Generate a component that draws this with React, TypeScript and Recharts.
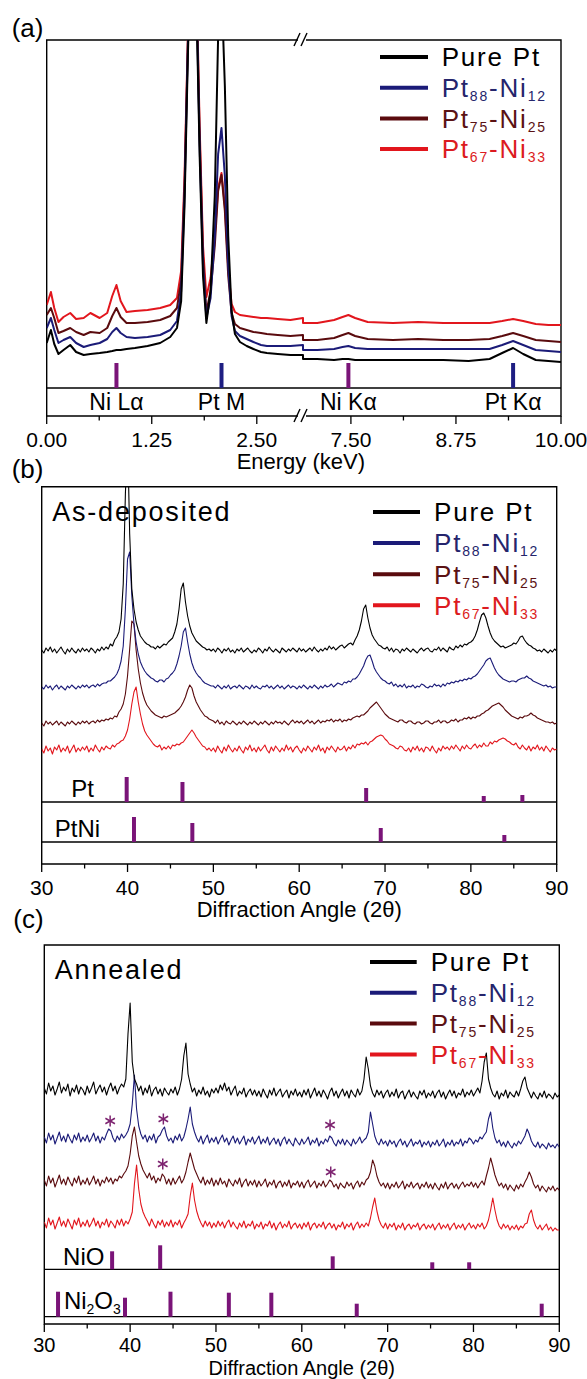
import React from 'react';
import { LineChart, Line, XAxis, YAxis, ReferenceLine, ReferenceArea, ReferenceDot, Legend } from 'recharts';

const SANS = "'Liberation Sans', Arial, Helvetica, sans-serif";

// ---------------- shared series definitions ----------------
const seriesKeys = ['purePt', 'pt88', 'pt75', 'pt67'];
const seriesColors = ['#000000', '#1b1b78', '#5a0b0e', '#e2161d'];
const legendTextColors = ['#000000', '#25256c', '#5b1214', '#dc1b21'];
const legendLabels = [
  [{ t: 'Pure Pt' }],
  [{ t: 'Pt' }, { t: '88', sub: true }, { t: '-Ni' }, { t: '12', sub: true }],
  [{ t: 'Pt' }, { t: '75', sub: true }, { t: '-Ni' }, { t: '25', sub: true }],
  [{ t: 'Pt' }, { t: '67', sub: true }, { t: '-Ni' }, { t: '33', sub: true }],
];
const NI_COLOR = '#7a1478';
const PT_COLOR = '#1e1e82';

// ---------------- panel (a): EDS ----------------
const edsEnergy = [0.00, 0.05, 0.09, 0.14, 0.20, 0.28, 0.35, 0.44, 0.52, 0.63, 0.72, 0.78, 0.83, 0.88, 0.95, 1.05, 1.20, 1.35, 1.47, 1.55, 1.60, 1.64, 1.68, 1.73, 1.78, 1.82, 1.86, 1.90, 1.95, 2.00, 2.04, 2.08, 2.12, 2.16, 2.20, 2.24, 2.30, 2.38, 2.46, 2.55, 2.62, 2.75, 2.90, 3.05, 6.93, 7.10, 7.30, 7.40, 7.47, 7.55, 7.70, 8.00, 8.30, 8.60, 8.90, 9.15, 9.30, 9.43, 9.55, 9.70, 9.85, 10.00];
const edsPurePt = [73, 86, 72, 62, 66, 71, 64, 61, 62, 63, 64, 65, 66, 66, 67, 68, 70, 73, 79, 88, 115, 210, 360, 520, 420, 260, 140, 93, 125, 220, 380, 430, 330, 180, 105, 82, 74, 70, 67, 64, 63, 62, 61, 61, 57, 57, 56, 57, 57, 56, 56, 56, 56, 56, 55, 57, 63, 68, 62, 56, 55, 54];
const edsPt88 = [88, 98, 86, 73, 76, 79, 73, 69, 71, 73, 77, 84, 88, 83, 79, 78, 79, 81, 86, 95, 125, 220, 370, 530, 430, 270, 150, 98, 118, 180, 262, 288, 240, 150, 100, 85, 80, 77, 74, 71, 70, 70, 70, 71, 66, 66, 67, 69, 70, 68, 67, 67, 67, 67, 67, 67, 71, 75, 71, 66, 65, 64];
const edsPt75 = [101, 108, 98, 83, 85, 88, 84, 81, 84, 83, 88, 100, 108, 99, 93, 93, 94, 96, 100, 108, 135, 230, 375, 540, 440, 280, 160, 104, 125, 170, 225, 241, 205, 140, 103, 92, 88, 86, 84, 83, 82, 81, 80, 81, 76, 76, 78, 81, 83, 80, 77, 76, 77, 76, 76, 77, 80, 83, 80, 76, 75, 74];
const edsPt67 = [111, 124, 108, 94, 99, 103, 97, 98, 103, 98, 103, 120, 131, 115, 104, 105, 106, 108, 111, 118, 145, 240, 380, 545, 445, 290, 170, 119, 138, 180, 228, 243, 210, 148, 112, 104, 101, 100, 99, 98, 98, 97, 96, 98, 93, 93, 96, 99, 101, 98, 94, 93, 94, 93, 93, 93, 95, 97, 95, 92, 91, 91];
const edsLineNames = ['Ni Lα', 'Pt M', 'Ni Kα', 'Pt Kα'];
const edsLineEnergies = [0.83, 2.08, 7.47, 9.43];
const edsLineElements = ['Ni', 'Pt', 'Ni', 'Pt'];
const edsStickHeight = 25;
const edsStripBase = 28;
const edsStripLabelValue = 14;
const edsYMax = 376;
const edsMajorTicks = [0, 1.25, 2.5, 7.5, 8.75, 10];
const edsMinorTicks = [0.625, 1.875, 8.125, 9.375];
const BREAK_LOW = 3.05;
const BREAK_HIGH = 6.93;
const toAxis = (e: number) => (e <= BREAK_LOW + 1e-9 ? e : e - (BREAK_HIGH - BREAK_LOW));
const fromAxis = (d: number) => (d <= BREAK_LOW + 1e-9 ? d : d + (BREAK_HIGH - BREAK_LOW));

const edsTable = edsEnergy.map((e, i) => ({
  x: toAxis(e),
  purePt: edsPurePt[i],
  pt88: edsPt88[i],
  pt75: edsPt75[i],
  pt67: edsPt67[i],
}));

// ---------------- panels (b), (c): XRD (0.25° steps) ----------------
const xrdAngles = [
  30, 30.25, 30.5, 30.75, 31, 31.25, 31.5, 31.75, 32, 32.25, 32.5, 32.75, 33, 33.25, 33.5, 33.75, 34, 34.25, 34.5, 34.75,
  35, 35.25, 35.5, 35.75, 36, 36.25, 36.5, 36.75, 37, 37.25, 37.5, 37.75, 38, 38.25, 38.5, 38.75, 39, 39.25, 39.5, 39.75,
  40, 40.25, 40.5, 40.75, 41, 41.25, 41.5, 41.75, 42, 42.25, 42.5, 42.75, 43, 43.25, 43.5, 43.75, 44, 44.25, 44.5, 44.75,
  45, 45.25, 45.5, 45.75, 46, 46.25, 46.5, 46.75, 47, 47.25, 47.5, 47.75, 48, 48.25, 48.5, 48.75, 49, 49.25, 49.5, 49.75,
  50, 50.25, 50.5, 50.75, 51, 51.25, 51.5, 51.75, 52, 52.25, 52.5, 52.75, 53, 53.25, 53.5, 53.75, 54, 54.25, 54.5, 54.75,
  55, 55.25, 55.5, 55.75, 56, 56.25, 56.5, 56.75, 57, 57.25, 57.5, 57.75, 58, 58.25, 58.5, 58.75, 59, 59.25, 59.5, 59.75,
  60, 60.25, 60.5, 60.75, 61, 61.25, 61.5, 61.75, 62, 62.25, 62.5, 62.75, 63, 63.25, 63.5, 63.75, 64, 64.25, 64.5, 64.75,
  65, 65.25, 65.5, 65.75, 66, 66.25, 66.5, 66.75, 67, 67.25, 67.5, 67.75, 68, 68.25, 68.5, 68.75, 69, 69.25, 69.5, 69.75,
  70, 70.25, 70.5, 70.75, 71, 71.25, 71.5, 71.75, 72, 72.25, 72.5, 72.75, 73, 73.25, 73.5, 73.75, 74, 74.25, 74.5, 74.75,
  75, 75.25, 75.5, 75.75, 76, 76.25, 76.5, 76.75, 77, 77.25, 77.5, 77.75, 78, 78.25, 78.5, 78.75, 79, 79.25, 79.5, 79.75,
  80, 80.25, 80.5, 80.75, 81, 81.25, 81.5, 81.75, 82, 82.25, 82.5, 82.75, 83, 83.25, 83.5, 83.75, 84, 84.25, 84.5, 84.75,
  85, 85.25, 85.5, 85.75, 86, 86.25, 86.5, 86.75, 87, 87.25, 87.5, 87.75, 88, 88.25, 88.5, 88.75, 89, 89.25, 89.5, 89.75,
  90,
];

// as-deposited
const asDepPurePt = [
  214, 211, 216, 213, 217, 212, 215, 211, 214, 217, 213, 210, 215, 212, 216, 213, 211, 215, 212, 216,
  213, 215, 212, 216, 214, 211, 215, 213, 217, 214, 217, 215, 220, 218, 224, 227, 232, 245, 280, 370,
  430, 330, 275, 255, 242, 234, 228, 225, 222, 220, 219, 217, 217, 215, 218, 216, 218, 220, 219, 222,
  224, 226, 232, 240, 255, 275, 281, 262, 248, 238, 231, 227, 223, 221, 219, 217, 216, 214, 215, 213,
  215, 212, 216, 214, 211, 215, 213, 216, 212, 214, 211, 215, 213, 216, 212, 214, 216, 213, 211, 214,
  212, 216, 214, 211, 215, 213, 217, 214, 212, 215, 213, 211, 216, 214, 212, 215, 213, 216, 214, 212,
  216, 213, 215, 212, 214, 216, 213, 217, 214, 212, 215, 213, 216, 214, 218, 215, 217, 214, 216, 218,
  219, 216, 218, 220, 221, 219, 224, 228, 234, 243, 255, 259, 246, 236, 229, 225, 222, 219, 218, 216,
  215, 217, 213, 216, 212, 215, 214, 211, 215, 213, 216, 214, 212, 215, 213, 211, 214, 216, 213, 215,
  216, 213, 212, 215, 214, 217, 213, 216, 214, 212, 217, 215, 214, 218, 216, 219, 217, 220, 219, 221,
  222, 224, 228, 234, 242, 249, 251, 246, 238, 231, 226, 223, 221, 219, 217, 218, 216, 217, 218, 219,
  221, 220, 223, 227, 228, 224, 221, 219, 218, 216, 215, 213, 214, 212, 215, 213, 211, 214, 212, 215,
  213,
];
const asDepPt88 = [
  177, 175, 179, 176, 178, 174, 177, 179, 175, 178, 176, 174, 178, 176, 179, 177, 175, 178, 176, 179,
  177, 179, 176, 178, 179, 177, 180, 178, 180, 181, 181, 183, 183, 185, 187, 190, 195, 203, 218, 255,
  305, 312, 268, 240, 222, 210, 202, 197, 193, 190, 188, 186, 185, 183, 182, 184, 184, 182, 185, 186,
  189, 191, 194, 200, 208, 218, 232, 236, 222, 210, 201, 195, 191, 188, 186, 183, 181, 180, 179, 178,
  178, 176, 179, 177, 175, 178, 176, 179, 175, 177, 178, 176, 179, 177, 175, 178, 177, 175, 179, 176,
  178, 176, 175, 178, 177, 179, 176, 178, 175, 177, 179, 176, 178, 175, 177, 179, 176, 178, 177, 175,
  178, 176, 179, 177, 175, 178, 176, 179, 177, 175, 178, 176, 179, 177, 178, 180, 177, 179, 181, 180,
  179, 182, 181, 183, 182, 185, 185, 187, 190, 194, 198, 204, 208, 209, 203, 196, 192, 189, 186, 184,
  183, 181, 180, 182, 178, 180, 177, 179, 177, 180, 176, 178, 177, 179, 176, 178, 177, 180, 179, 177,
  176, 178, 177, 180, 178, 179, 177, 180, 178, 181, 180, 182, 181, 183, 182, 184, 183, 185, 184, 186,
  185, 187, 188, 190, 193, 196, 199, 203, 205, 206, 201, 196, 192, 189, 187, 185, 184, 183, 182, 183,
  183, 182, 184, 185, 186, 186, 188, 186, 185, 183, 182, 181, 180, 179, 178, 179, 177, 178, 176, 177,
  177,
];
const asDepPt75 = [
  141, 138, 143, 140, 142, 139, 141, 143, 139, 142, 140, 138, 142, 140, 143, 141, 139, 142, 140, 143,
  141, 143, 140, 142, 143, 141, 144, 142, 144, 143, 145, 144, 146, 145, 148, 147, 152, 155, 160, 170,
  188, 215, 243, 240, 214, 195, 181, 171, 164, 159, 156, 153, 151, 149, 148, 147, 146, 148, 147, 148,
  149, 150, 151, 153, 155, 158, 162, 167, 174, 179, 176, 168, 162, 158, 154, 151, 148, 147, 145, 144,
  143, 141, 144, 140, 142, 139, 143, 141, 140, 143, 141, 139, 142, 140, 143, 141, 139, 142, 140, 143,
  141, 139, 142, 140, 143, 141, 139, 142, 140, 143, 141, 142, 140, 143, 141, 139, 142, 144, 141, 143,
  141, 143, 140, 142, 144, 141, 143, 140, 142, 144, 141, 143, 142, 144, 143, 145, 142, 144, 143, 145,
  142, 144, 143, 145, 144, 146, 147, 148, 147, 149, 149, 151, 153, 156, 158, 160, 162, 159, 156, 153,
  150, 148, 146, 145, 144, 143, 142, 144, 144, 142, 141, 143, 143, 141, 140, 142, 142, 140, 141, 143,
  143, 141, 140, 142, 142, 144, 141, 143, 143, 141, 142, 144, 143, 145, 142, 144, 144, 146, 145, 147,
  145, 147, 146, 148, 148, 150, 151, 153, 154, 156, 158, 159, 160, 161, 159, 157, 154, 152, 150, 148,
  147, 146, 145, 147, 146, 148, 148, 149, 151, 149, 148, 146, 145, 144, 143, 142, 142, 141, 142, 140,
  141,
];
const asDepPt67 = [
  115, 111, 118, 113, 116, 110, 117, 114, 119, 112, 116, 113, 118, 111, 115, 119, 112, 116, 113, 117,
  114, 118, 112, 116, 113, 119, 115, 112, 117, 114, 118, 116, 115, 119, 117, 120, 121, 123, 124, 128,
  134, 145, 160, 172, 177, 162, 150, 140, 133, 129, 126, 123, 120, 118, 117, 119, 114, 117, 115, 118,
  115, 119, 118, 120, 119, 121, 122, 125, 128, 131, 134, 131, 127, 124, 121, 118, 117, 114, 116, 113,
  116, 112, 118, 114, 111, 117, 113, 119, 115, 112, 116, 113, 118, 114, 111, 117, 114, 119, 113, 116,
  112, 117, 113, 116, 119, 114, 111, 117, 113, 118, 115, 112, 116, 113, 119, 114, 117, 112, 116, 118,
  114, 111, 116, 113, 118, 115, 112, 117, 114, 119, 113, 116, 111, 117, 114, 118, 115, 112, 117, 114,
  115, 118, 113, 117, 115, 119, 116, 120, 119, 121, 120, 122, 119, 122, 123, 125, 127, 128, 129, 128,
  125, 123, 120, 119, 118, 116, 115, 118, 117, 114, 113, 116, 112, 117, 114, 118, 113, 116, 112, 117,
  116, 113, 118, 114, 111, 116, 113, 118, 115, 117, 114, 118, 115, 119, 116, 113, 118, 115, 119, 116,
  115, 118, 120, 116, 119, 117, 121, 118, 118, 122, 120, 123, 122, 124, 125, 126, 125, 123, 122, 120,
  119, 121, 117, 115, 119, 116, 114, 118, 113, 117, 115, 119, 114, 117, 113, 118, 115, 112, 116, 114,
  115,
];

// annealed
const annPurePt = [
  236, 230, 241, 233, 238, 229, 235, 242, 231, 237, 233, 240, 228, 236, 232, 239, 230, 237, 234, 229,
  238, 231, 236, 242, 230, 235, 239, 232, 237, 229, 236, 241, 233, 238, 230, 236, 240, 237, 245, 290,
  321, 262, 245, 240, 233, 238, 229, 236, 231, 239, 228, 234, 237, 230, 235, 228, 236, 232, 229, 235,
  231, 237, 229, 235, 245, 268, 281, 250, 240, 232, 236, 228, 234, 230, 237, 229, 233, 227, 235, 231,
  236, 231, 239, 234, 241, 233, 237, 229, 234, 238, 228, 233, 230, 236, 227, 232, 235, 229, 234, 228,
  233, 227, 235, 230, 226, 234, 229, 236, 228, 232, 235, 227, 231, 234, 226, 233, 229, 235, 228, 232,
  227, 234, 229, 235, 226, 231, 236, 228, 233, 227, 234, 230, 225, 232, 236, 228, 233, 226, 231, 235,
  228, 233, 226, 234, 230, 227, 235, 229, 233, 245, 267, 255, 238, 231, 227, 234, 229, 233, 226, 231,
  234, 227, 232, 228, 235, 226, 231, 233, 225, 230, 234, 227, 232, 228, 225, 233, 229, 234, 226, 231,
  228, 233, 226, 231, 234, 227, 232, 225, 230, 234, 228, 233, 226, 231, 229, 235, 227, 232, 229, 234,
  228, 232, 236, 231, 243, 262, 271, 245, 236, 230, 227, 233, 225, 231, 228, 234, 226, 232, 229, 227,
  233, 228, 235, 243, 247, 236, 231, 226, 232, 228, 225, 231, 227, 233, 226, 230, 228, 225, 231, 227,
  229,
];
const annPt88 = [
  187, 181, 191, 184, 189, 180, 186, 192, 183, 188, 182, 190, 185, 181, 189, 184, 191, 182, 187, 183,
  189, 182, 186, 191, 183, 188, 181, 187, 184, 190, 195, 193, 186, 182, 188, 184, 190, 186, 189, 193,
  200, 220, 249, 215, 198, 190, 185, 189, 182, 188, 184, 190, 181, 187, 189, 194, 197, 188, 183, 186,
  181, 188, 184, 190, 183, 187, 195, 205, 217, 200, 192, 186, 182, 188, 180, 185, 189, 181, 186, 182,
  187, 180, 185, 189, 182, 186, 179, 184, 188, 181, 186, 180, 184, 188, 179, 185, 182, 187, 180, 184,
  188, 180, 185, 181, 187, 179, 183, 186, 180, 185, 178, 184, 187, 180, 185, 181, 178, 186, 182, 179,
  185, 180, 183, 187, 179, 184, 181, 186, 178, 183, 180, 185, 182, 188, 186, 181, 178, 184, 180, 185,
  179, 184, 181, 178, 185, 180, 183, 187, 181, 184, 186, 192, 212, 200, 188, 182, 179, 185, 180, 183,
  178, 184, 180, 183, 177, 182, 185, 179, 183, 177, 181, 185, 178, 182, 180, 184, 177, 182, 179, 183,
  177, 182, 179, 184, 178, 181, 185, 177, 182, 179, 184, 178, 182, 180, 185, 178, 183, 181, 186, 184,
  180, 184, 182, 187, 185, 189, 192, 205, 212, 196, 186, 181, 184, 178, 182, 177, 183, 179, 176, 181,
  178, 183, 180, 184, 188, 195, 190, 183, 179, 177, 182, 176, 180, 178, 175, 181, 177, 179, 176, 180,
  177,
];
const annPt75 = [
  144, 138, 148, 141, 146, 137, 143, 149, 140, 145, 139, 147, 142, 138, 146, 141, 148, 139, 144, 140,
  146, 139, 143, 148, 140, 145, 138, 144, 141, 147, 142, 146, 140, 145, 143, 148, 146, 150, 153, 158,
  170, 188, 197, 182, 168, 160, 154, 150, 146, 151, 144, 148, 141, 146, 143, 150, 147, 140, 145, 139,
  146, 140, 144, 148, 141, 145, 152, 162, 171, 163, 155, 150, 145, 141, 147, 139, 144, 140, 146, 138,
  144, 139, 146, 140, 143, 137, 145, 141, 138, 144, 140, 146, 137, 142, 145, 138, 143, 139, 144, 137,
  143, 138, 141, 145, 137, 142, 139, 144, 136, 141, 143, 137, 142, 138, 144, 136, 141, 139, 143, 137,
  142, 136, 141, 144, 137, 140, 143, 136, 141, 138, 143, 137, 140, 144, 142, 137, 140, 135, 141, 138,
  136, 142, 138, 141, 135, 140, 143, 137, 142, 139, 144, 146, 152, 164, 158, 148, 142, 138, 141, 136,
  141, 135, 140, 137, 142, 136, 139, 143, 135, 140, 137, 142, 136, 139, 141, 135, 140, 137, 142, 136,
  140, 135, 141, 137, 134, 140, 136, 142, 135, 139, 141, 136, 140, 135, 139, 142, 137, 140, 138, 142,
  137, 141, 136, 140, 143, 139, 148, 156, 166, 158, 149, 143, 138, 141, 136, 140, 134, 139, 136, 133,
  139, 135, 140, 137, 142, 146, 152, 147, 140, 136, 139, 133, 138, 135, 132, 137, 134, 138, 133, 136,
  134,
];
const annPt67 = [
  102, 96, 106, 99, 104, 95, 101, 107, 98, 103, 97, 105, 100, 95, 104, 99, 106, 97, 102, 98,
  104, 97, 101, 106, 98, 103, 96, 102, 99, 105, 97, 103, 100, 96, 104, 99, 105, 98, 103, 100,
  105, 112, 140, 159, 135, 120, 112, 107, 103, 98, 105, 100, 96, 103, 99, 104, 97, 102, 98, 104,
  97, 102, 99, 104, 96, 101, 105, 110, 128, 141, 124, 113, 106, 101, 97, 103, 98, 102, 96, 101,
  97, 103, 98, 102, 96, 101, 104, 97, 102, 98, 95, 101, 97, 103, 96, 100, 98, 103, 95, 100,
  97, 102, 95, 100, 98, 103, 96, 101, 94, 99, 102, 96, 100, 97, 103, 95, 99, 101, 96, 100,
  95, 101, 97, 102, 94, 99, 101, 96, 100, 97, 102, 95, 99, 101, 96, 100, 94, 99, 97, 102,
  95, 100, 97, 101, 94, 99, 102, 96, 100, 97, 101, 98, 106, 117, 126, 113, 104, 99, 96, 101,
  95, 100, 97, 101, 94, 99, 96, 101, 94, 98, 100, 95, 99, 97, 101, 94, 98, 100, 95, 99,
  96, 100, 94, 98, 101, 95, 99, 96, 100, 94, 98, 101, 95, 99, 96, 100, 94, 98, 101, 96,
  99, 95, 100, 97, 101, 95, 98, 104, 114, 126, 114, 104, 98, 95, 100, 96, 99, 94, 98, 95,
  99, 94, 98, 96, 100, 101, 110, 114, 104, 98, 95, 99, 94, 97, 100, 94, 97, 93, 96, 94,
  94,
];

const xrdTicks = [30, 35, 40, 45, 50, 55, 60, 65, 70, 75, 80, 85, 90];
const xrdMajorTicks = [30, 40, 50, 60, 70, 80, 90];

// reference patterns
const ptRefAngles = [39.9, 46.4, 67.8, 81.5, 86.0];
const ptRefHeights = [25, 20, 14, 6, 7];
const ptNiRefAngles = [40.75, 47.55, 69.5, 83.9];
const ptNiRefHeights = [25, 19, 14, 7];
const nioRefAngles = [37.9, 43.5, 63.6, 75.2, 79.5];
const nioRefHeights = [18, 24, 13, 7, 7];
const ni2o3RefAngles = [31.6, 39.4, 44.7, 51.5, 56.45, 66.4, 87.95];
const ni2o3RefHeights = [25, 19, 25, 24, 24, 13, 13];

// asterisk (impurity) markers on annealed patterns
const asteriskAngles = [37.67, 43.87, 43.8, 63.29, 63.37];
const asteriskValues = [203, 205, 160, 199, 152];

const buildTable = (angles: number[], cols: number[][]) =>
  angles.map((a, i) => ({ x: a, purePt: cols[0][i], pt88: cols[1][i], pt75: cols[2][i], pt67: cols[3][i] }));
const asDepTable = buildTable(xrdAngles, [asDepPurePt, asDepPt88, asDepPt75, asDepPt67]);
const annTable = buildTable(xrdAngles, [annPurePt, annPt88, annPt75, annPt67]);

// ---------------- helpers ----------------
type Part = { t: string; sub?: boolean };

function PartsText({ x, y, parts, size, subSize, subShift, fill, spacing, anchor }: any) {
  return (
    <text x={x} y={y} fontSize={size} fill={fill} fontFamily={SANS} letterSpacing={spacing || 0} textAnchor={anchor || 'start'}>
      {parts.map((p: Part, i: number) => {
        const prevSub = i > 0 && !!parts[i - 1].sub;
        const dy = p.sub ? (prevSub ? 0 : subShift) : prevSub ? -subShift : 0;
        return (
          <tspan key={i} fontSize={p.sub ? subSize : size} dy={dy}>
            {p.t}
          </tspan>
        );
      })}
    </text>
  );
}

function makeTick(majors: number[], format: (v: number) => string, fontSize: number, labelDy: number) {
  return function TickMark(props: any) {
    const { x, y, payload } = props;
    const v = payload.value;
    const major = majors.some((m) => Math.abs(m - v) < 1e-6);
    return (
      <g>
        <line x1={x} x2={x} y1={y} y2={y + (major ? 8 : 4.5)} stroke="#000" strokeWidth={1.3} />
        {major ? (
          <text x={x} y={y + labelDy} textAnchor="middle" fontSize={fontSize} fontFamily={SANS} fill="#000">
            {format(v)}
          </text>
        ) : null}
      </g>
    );
  };
}

const yTitle = (dx: number, dy: number) => (props: any) => {
  const vb = props.viewBox || { x: 0, y: 0, width: 0, height: 0 };
  const x = vb.x - dx;
  const y = vb.y + vb.height / 2 + dy;
  return (
    <text x={x} y={y} transform={`rotate(-90 ${x} ${y})`} textAnchor="middle" fontSize={20} letterSpacing={1} fontFamily={SANS} fill="#000">
      Intensity (a.u.)
    </text>
  );
};

const xTitle = (text: string, dx: number, dy: number, size: number) => (props: any) => {
  const vb = props.viewBox || { x: 0, y: 0, width: 0, height: 0 };
  return (
    <text x={vb.x + vb.width / 2 + dx} y={vb.y + dy} textAnchor="middle" fontSize={size} fontFamily={SANS} fill="#000">
      {text}
    </text>
  );
};

const centerLabel = (parts: Part[], size: number) => (props: any) => {
  const vb = props.viewBox || { x: 0, y: 0, width: 0, height: 0 };
  return (
    <PartsText
      x={vb.x + vb.width / 2}
      y={vb.y + vb.height / 2 + size * 0.36}
      parts={parts}
      size={size}
      subSize={14}
      subShift={5}
      fill="#000"
      anchor="middle"
    />
  );
};

const cornerText = (text: string) => (props: any) => {
  const vb = props.viewBox || { x: 0, y: 0, width: 0, height: 0 };
  return (
    <text x={vb.x + 10.5} y={vb.y + 34.3} fontSize={27} letterSpacing={1.8} fontFamily={SANS} fill="#000">
      {text}
    </text>
  );
};

const breakMarks = (props: any) => {
  const vb = props.viewBox || { x: 0, y: 0, width: 0, height: 0 };
  const x = vb.x;
  return (
    <g>
      {[vb.y, vb.y + vb.height].map((yy: number, i: number) => (
        <g key={i}>
          <rect x={x - 5} y={yy - 2.5} width={8} height={5} fill="#fff" />
          <line x1={x - 9} y1={yy + 6} x2={x - 3} y2={yy - 7} stroke="#000" strokeWidth={1.4} />
          <line x1={x - 2} y1={yy + 6} x2={x + 4} y2={yy - 7} stroke="#000" strokeWidth={1.4} />
        </g>
      ))}
    </g>
  );
};

const asteriskShape = (p: any) => {
  const { cx, cy } = p;
  const r = 5.5;
  return (
    <g stroke="#7d2370" strokeWidth={1.5}>
      <line x1={cx} y1={cy - r} x2={cx} y2={cy + r} />
      <line x1={cx - r * 0.87} y1={cy - r * 0.5} x2={cx + r * 0.87} y2={cy + r * 0.5} />
      <line x1={cx - r * 0.87} y1={cy + r * 0.5} x2={cx + r * 0.87} y2={cy - r * 0.5} />
    </g>
  );
};

const makeLegend = (gap: number, lineLen: number, textDx: number) =>
  function LegendBox() {
    return (
      <svg width={215} height={4 * gap + 12} style={{ display: 'block', overflow: 'visible' }}>
        {legendLabels.map((parts, i) => {
          const cy = 16 + i * gap;
          return (
            <g key={i}>
              <line x1={0} x2={lineLen} y1={cy} y2={cy} stroke={seriesColors[i]} strokeWidth={4} />
              <PartsText x={textDx} y={cy + 9.3} parts={parts} size={26} subSize={14} subShift={4} fill={legendTextColors[i]} spacing={1.8} />
            </g>
          );
        })}
      </svg>
    );
  };

function renderLines(width: number) {
  return [3, 2, 1, 0].map((i) => (
    <Line
      key={seriesKeys[i]}
      type="linear"
      dataKey={seriesKeys[i]}
      stroke={seriesColors[i]}
      strokeWidth={width}
      dot={false}
      activeDot={false}
      isAnimationActive={false}
      strokeLinejoin="round"
    />
  ));
}

// ---------------- panel (a) ----------------
function EdsChart() {
  const xMax = toAxis(10);
  const allTicks = [...edsMajorTicks, ...edsMinorTicks].sort((a, b) => a - b).map(toAxis);
  const tick = makeTick(edsMajorTicks.map(toAxis), (d) => fromAxis(d).toFixed(2), 21, 31);
  return (
    <LineChart width={587} height={482} data={edsTable} margin={{ top: 40, right: 26, left: 46.7, bottom: 12 }}>
      <XAxis
        dataKey="x"
        type="number"
        domain={[0, xMax]}
        ticks={allTicks}
        interval={0}
        allowDataOverflow
        axisLine={false}
        tickLine={false}
        tickSize={0}
        tickMargin={0}
        height={54}
        tick={tick}
        label={xTitle('Energy (keV)', -3, 53, 22)}
      />
      <YAxis type="number" domain={[0, edsYMax]} allowDataOverflow width={0} tick={false} axisLine={false} tickLine={false} label={yTitle(14, 7)} />
      {renderLines(2)}
      <ReferenceLine y={edsStripBase} stroke="#000" strokeWidth={1.3} />
      {edsLineEnergies.map((e, i) => (
        <ReferenceLine
          key={'s' + i}
          segment={[{ x: toAxis(e), y: edsStripBase }, { x: toAxis(e), y: edsStripBase + edsStickHeight }]}
          stroke={edsLineElements[i] === 'Ni' ? NI_COLOR : PT_COLOR}
          strokeWidth={4}
        />
      ))}
      {edsLineEnergies.map((e, i) => (
        <ReferenceDot key={'l' + i} x={toAxis(e)} y={edsStripLabelValue} r={0} fill="none" stroke="none" label={centerLabel([{ t: edsLineNames[i] }], 23)} />
      ))}
      <ReferenceArea x1={0} x2={xMax} y1={0} y2={edsYMax} fill="none" stroke="#000" strokeWidth={1.4} ifOverflow="visible" />
      <ReferenceLine x={BREAK_LOW} stroke="none" ifOverflow="visible" label={breakMarks} />
      <Legend
        layout="vertical"
        align="center"
        verticalAlign="middle"
        content={makeLegend(30.7, 48, 61.7)}
        wrapperStyle={{ left: 380, top: 57.3 - 16, width: 215, height: 140 }}
      />
    </LineChart>
  );
}

// ---------------- panels (b), (c) ----------------
function XrdChart(props: any) {
  const { data, height, top, left, right, bottom, axisHeight, yMax, strips, note, legend, yT, titleDy, tickFont, tickDy, titleFont, lineWidth, asterisks } = props;
  const tick = makeTick(xrdMajorTicks, (v) => String(v), tickFont, tickDy);
  return (
    <LineChart width={587} height={height} data={data} margin={{ top, right, left, bottom }}>
      <XAxis
        dataKey="x"
        type="number"
        domain={[30, 90]}
        ticks={xrdTicks}
        interval={0}
        allowDataOverflow
        axisLine={false}
        tickLine={false}
        tickSize={0}
        tickMargin={0}
        height={axisHeight}
        tick={tick}
        label={xTitle('Diffraction Angle (2θ)', 0, titleDy, titleFont)}
      />
      <YAxis type="number" domain={[0, yMax]} allowDataOverflow width={0} tick={false} axisLine={false} tickLine={false} label={yTitle(yT[0], yT[1])} />
      {renderLines(lineWidth)}
      {strips.map((s: any, si: number) => (
        <ReferenceLine key={'b' + si} y={s.base} stroke="#000" strokeWidth={1.3} />
      ))}
      {strips.map((s: any, si: number) =>
        s.angles.map((a: number, i: number) => (
          <ReferenceLine
            key={'k' + si + '-' + i}
            segment={[{ x: a, y: s.base }, { x: a, y: s.base + s.heights[i] }]}
            stroke={NI_COLOR}
            strokeWidth={4}
          />
        ))
      )}
      {strips.map((s: any, si: number) => (
        <ReferenceDot key={'t' + si} x={s.labelAngle} y={s.labelValue} r={0} fill="none" stroke="none" label={centerLabel(s.parts, 24)} />
      ))}
      {(asterisks || []).map((a: any, i: number) => (
        <ReferenceDot key={'a' + i} x={a.x} y={a.y} r={6} shape={asteriskShape} />
      ))}
      <ReferenceArea x1={30} x2={90} y1={0} y2={yMax} fill="none" stroke="#000" strokeWidth={1.4} ifOverflow="visible" label={cornerText(note)} />
      <Legend
        layout="vertical"
        align="center"
        verticalAlign="middle"
        content={makeLegend(legend.gap, legend.lineLen, legend.textDx)}
        wrapperStyle={{ left: legend.left, top: legend.top - 16, width: 215, height: 140 }}
      />
    </LineChart>
  );
}

const asDepStrips = [
  { parts: [{ t: 'Pt' }], base: 62, angles: ptRefAngles, heights: ptRefHeights, labelAngle: 34.75, labelValue: 76 },
  { parts: [{ t: 'PtNi' }], base: 22, angles: ptNiRefAngles, heights: ptNiRefHeights, labelAngle: 34.17, labelValue: 36 },
];
const annStrips = [
  { parts: [{ t: 'NiO' }], base: 54.7, angles: nioRefAngles, heights: nioRefHeights, labelAngle: 34.6, labelValue: 67.3 },
  {
    parts: [{ t: 'Ni' }, { t: '2', sub: true }, { t: 'O' }, { t: '3', sub: true }],
    base: 7.3,
    angles: ni2o3RefAngles,
    heights: ni2o3RefHeights,
    labelAngle: 35.6,
    labelValue: 24,
  },
];
const annAsterisks = asteriskAngles.map((a, i) => ({ x: a, y: asteriskValues[i] }));

export default function App() {
  return (
    <div style={{ position: 'absolute', left: 0, top: 0, width: 587, height: 1379, background: '#fff', overflow: 'hidden' }}>
      <div style={{ position: 'absolute', left: 0, top: 0 }}>
        <EdsChart />
      </div>
      <div style={{ position: 'absolute', left: 0, top: 440 }}>
        <XrdChart
          data={asDepTable}
          height={492}
          top={46.7}
          left={41.7}
          right={30.3}
          bottom={12}
          axisHeight={56}
          yMax={377.3}
          strips={asDepStrips}
          note="As-deposited"
          legend={{ left: 373, top: 511.7 - 440, gap: 31.1, lineLen: 47, textDx: 61 }}
          yT={[12.4, 11]}
          titleDy={53}
          titleFont={22}
          tickFont={21}
          tickDy={31}
          lineWidth={1.1}
        />
      </div>
      <div style={{ position: 'absolute', left: 0, top: 900 }}>
        <XrdChart
          data={annTable}
          height={479}
          top={45}
          left={44.3}
          right={27.7}
          bottom={0}
          axisHeight={55}
          yMax={379}
          strips={annStrips}
          note="Annealed"
          legend={{ left: 370, top: 961.7 - 900, gap: 30.8, lineLen: 46.7, textDx: 60.7 }}
          yT={[12.6, 11.5]}
          titleDy={50.6}
          titleFont={20}
          tickFont={20}
          tickDy={28.4}
          lineWidth={1.1}
          asterisks={annAsterisks}
        />
      </div>
      <svg width={587} height={1379} style={{ position: 'absolute', left: 0, top: 0, pointerEvents: 'none' }}>
        <text x={11.7} y={37} fontSize={26} fontFamily={SANS} fill="#000">(a)</text>
        <text x={11.7} y={478} fontSize={26} fontFamily={SANS} fill="#000">(b)</text>
        <text x={13.3} y={928} fontSize={26} fontFamily={SANS} fill="#000">(c)</text>
      </svg>
    </div>
  );
}
